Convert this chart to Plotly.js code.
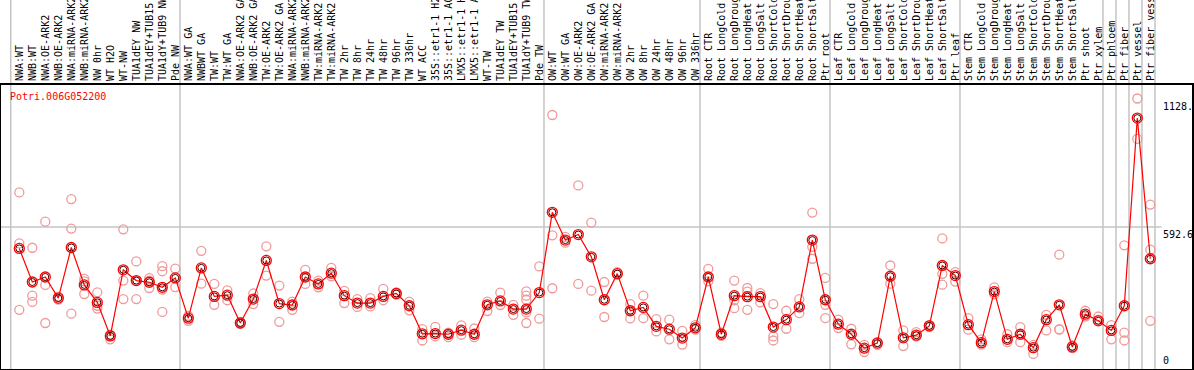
<!DOCTYPE html>
<html>
<head>
<meta charset="utf-8">
<script src="https://cdn.plot.ly/plotly-3.0.1.min.js"></script>
<style>html,body{margin:0;padding:0;background:#fff;}#chart{width:1194px;height:370px;}</style>
</head>
<body>
<div id="chart"></div>
<script>
// ---- data ----
const geneName = "Potri.006G052200";
const categories = [
  "NWA:WT","NWB:WT","NWA:OE-ARK2","NWB:OE-ARK2","NWA:miRNA-ARK2","NWB:miRNA-ARK2","NW 0hr","WT H2O","WT-NW","TUA1dEY NW","TUA1dEY+TUB15 NW","TUA1dY+TUB9 NW","Pde NW",
  "NWA:WT GA","NWBWT GA","TW:WT","TW:WT GA","NWA:OE-ARK2 GA","NWB:OE-ARK2 GA","TW:OE-ARK2","TW:OE-ARK2 GA","NWA:miRNA-ARK2 GA","NWB:miRNA-ARK2 GA","TW:miRNA-ARK2","TW:miRNA-ARK2 GA","TW 2hr","TW 8hr","TW 24hr","TW 48hr","TW 96hr","TW 336hr","WT ACC","35S::etr1-1 H2O","35S::etr1-1 ACC","LMX5::etr1-1 H2O","LMX5::etr1-1 ACC","WT-TW","TUA1dEY TW","TUA1dEY+TUB15 TW","TUA1dY+TUB9 TW","Pde TW",
  "OW:WT","OW:WT GA","OW:OE-ARK2","OW:OE-ARK2 GA","OW:miRNA-ARK2","OW:miRNA-ARK2 GA","OW 2hr","OW 8hr","OW 24hr","OW 48hr","OW 96hr","OW 336hr",
  "Root CTR","Root LongCold","Root LongDrought","Root LongHeat","Root LongSalt","Root ShortCold","Root ShortDrought","Root ShortHeat","Root ShortSalt","Ptr root",
  "Leaf CTR","Leaf LongCold","Leaf LongDrought","Leaf LongHeat","Leaf LongSalt","Leaf ShortCold","Leaf ShortDrought","Leaf ShortHeat","Leaf ShortSalt","Ptr leaf",
  "Stem CTR","Stem LongCold","Stem LongDrought","Stem LongHeat","Stem LongSalt","Stem ShortCold","Stem ShortDrought","Stem ShortHeat","Stem ShortSalt","Ptr shoot",
  "Ptr xylem","Ptr phloem","Ptr fiber","Ptr vessel","Ptr fiber vessel"
];
const meanValues = [
  503,363,384,296,507,351,278,138,414,369,362,341,380,
  212,422,303,308,192,292,453,273,267,384,355,400,306,275,275,303,315,264,147,148,145,162,145,268,284,250,250,319,
  654,538,561,468,289,398,243,257,178,166,129,172,
  384,145,306,302,302,175,206,259,538,289,
  187,145,87,108,387,130,141,180,432,390,
  185,110,323,124,145,89,206,268,92,229,
  201,161,264,1047,460
];
const rep1 = [
  737,506,615,290,709,376,320,143,583,449,379,429,419,
  201,493,355,328,188,315,512,348,281,414,369,422,326,292,296,334,310,281,166,176,133,182,169,281,319,268,324,428,
  1060,551,766,611,363,404,271,306,208,206,159,183,
  418,152,369,338,317,271,243,292,653,380,
  206,168,101,112,432,161,154,175,545,404,
  212,124,341,145,175,101,226,477,98,243,
  219,183,516,1128.8,686
];
const rep2 = [
  524,306,351,302,586,366,264,124,369,292,338,408,342,
  222,356,268,287,196,271,390,197,247,355,341,387,275,259,261,287,320,245,119,136,152,143,133,242,267,226,306,210,
  558,527,355,327,217,394,211,212,157,124,102,164,
  366,138,287,323,278,136,168,233,510,268,
  171,103,71,101,356,96,136,183,397,365,
  164,102,312,112,112,63,161,166,87,219,
  206,124,152,960,498
];
const rep3 = [
  247,280,192,null,231,313,252,138,292,369,369,331,null,
  null,null,null,null,null,null,null,null,null,null,null,null,null,null,null,null,null,null,null,null,null,null,null,null,null,null,289,null,
  337,null,null,null,null,null,null,null,null,null,null,null,
  null,null,254,247,null,119,null,null,460,212,
  null,null,null,null,null,null,null,null,352,null,
  null,null,null,null,null,null,null,164,null,null,
  null,null,119,null,201
];
const rep4 = {11: 238, 39: 236};
const rep5 = {39: 192};
const yMax = 1185.2;
const midValue = 592.6;
const topLabel = "1128.";
// group separators: after these category indices (0-based)
const separatorAfter = [12, 40, 52, 62, 72, 83, 84, 85, 86, 87];

// ---- build traces ----
const idx = categories.map((_, i) => i);
const rx = [], ry = [];
[rep1, rep2, rep3].forEach(arr => arr.forEach((v, i) => { if (v !== null) { rx.push(i); ry.push(v); } }));
[rep4, rep5].forEach(o => Object.keys(o).forEach(k => { rx.push(+k); ry.push(o[k]); }));

const mono = "DejaVu Sans Mono, Liberation Mono, monospace";

const traces = [
  { x: rx, y: ry, type: 'scatter', mode: 'markers', hoverinfo: 'skip',
    marker: { symbol: 'circle-open', size: 9, color: '#ef9a9a', line: { width: 1.3, color: '#ef9a9a' } } },
  { x: idx, y: meanValues, type: 'scatter', mode: 'lines+markers',
    line: { color: '#ff0000', width: 1.2 },
    marker: { symbol: 'circle-open', size: 10, color: '#ff0000', line: { width: 1.3, color: '#ff0000' } } },
  { x: idx, y: meanValues, type: 'scatter', mode: 'markers', hoverinfo: 'skip',
    marker: { symbol: 'circle-open', size: 7, color: '#400000', line: { width: 1, color: '#400000' } } }
];

const xr = [(1 - 19.3) / 13, (1192 - 19.3) / 13];
const shapes = [];
const sepX = [-0.66].concat(separatorAfter.map(i => i + 0.36));
sepX.forEach(x => shapes.push({ type: 'line', xref: 'x', yref: 'paper', x0: x, x1: x, y0: 0, y1: 1.35,
  line: { color: '#c4c4c4', width: 1.5 }, layer: 'below' }));
shapes.push({ type: 'line', xref: 'x', yref: 'y', x0: xr[0], x1: (1161.5 - 19.3) / 13, y0: midValue, y1: midValue,
  line: { color: '#c4c4c4', width: 1.5 }, layer: 'below' });

const labelX = (1161 - 19.3) / 13;
const annotations = [
  { xref: 'paper', yref: 'paper', x: 0.006, y: 0.958, xanchor: 'left', yanchor: 'middle', showarrow: false,
    text: geneName, font: { family: mono, size: 10, color: '#ff0000' } },
  { xref: 'x', yref: 'y', x: labelX, y: 1128.8, xanchor: 'left', yanchor: 'top', showarrow: false,
    text: topLabel, font: { family: mono, size: 10, color: '#000' } },
  { xref: 'x', yref: 'y', x: labelX, y: midValue, xanchor: 'left', yanchor: 'top', showarrow: false,
    text: String(midValue), font: { family: mono, size: 10, color: '#000' } },
  { xref: 'x', yref: 'y', x: labelX, y: 0, xanchor: 'left', yanchor: 'bottom', yshift: 1, showarrow: false,
    text: '0', font: { family: mono, size: 10, color: '#000' } }
];

const layout = {
  width: 1194, height: 370,
  margin: { l: 1, r: 2, t: 85, b: 1, pad: 0 },
  paper_bgcolor: '#fff', plot_bgcolor: '#fff',
  showlegend: false,
  xaxis: {
    range: xr, side: 'top', tickmode: 'array', tickvals: idx, ticktext: categories,
    tickangle: -90, ticks: '', showgrid: false, zeroline: false,
    showline: true, mirror: true, linecolor: '#000', linewidth: 2,
    tickfont: { family: mono, size: 10, color: '#000' }, automargin: false, fixedrange: true
  },
  yaxis: {
    range: [0, yMax], showticklabels: false, ticks: '', showgrid: false, zeroline: false,
    showline: true, mirror: true, linecolor: '#000', linewidth: 2, automargin: false, fixedrange: true
  },
  shapes: shapes,
  annotations: annotations
};

Plotly.newPlot('chart', traces, layout, { staticPlot: true, displayModeBar: false });
</script>
</body>
</html>
